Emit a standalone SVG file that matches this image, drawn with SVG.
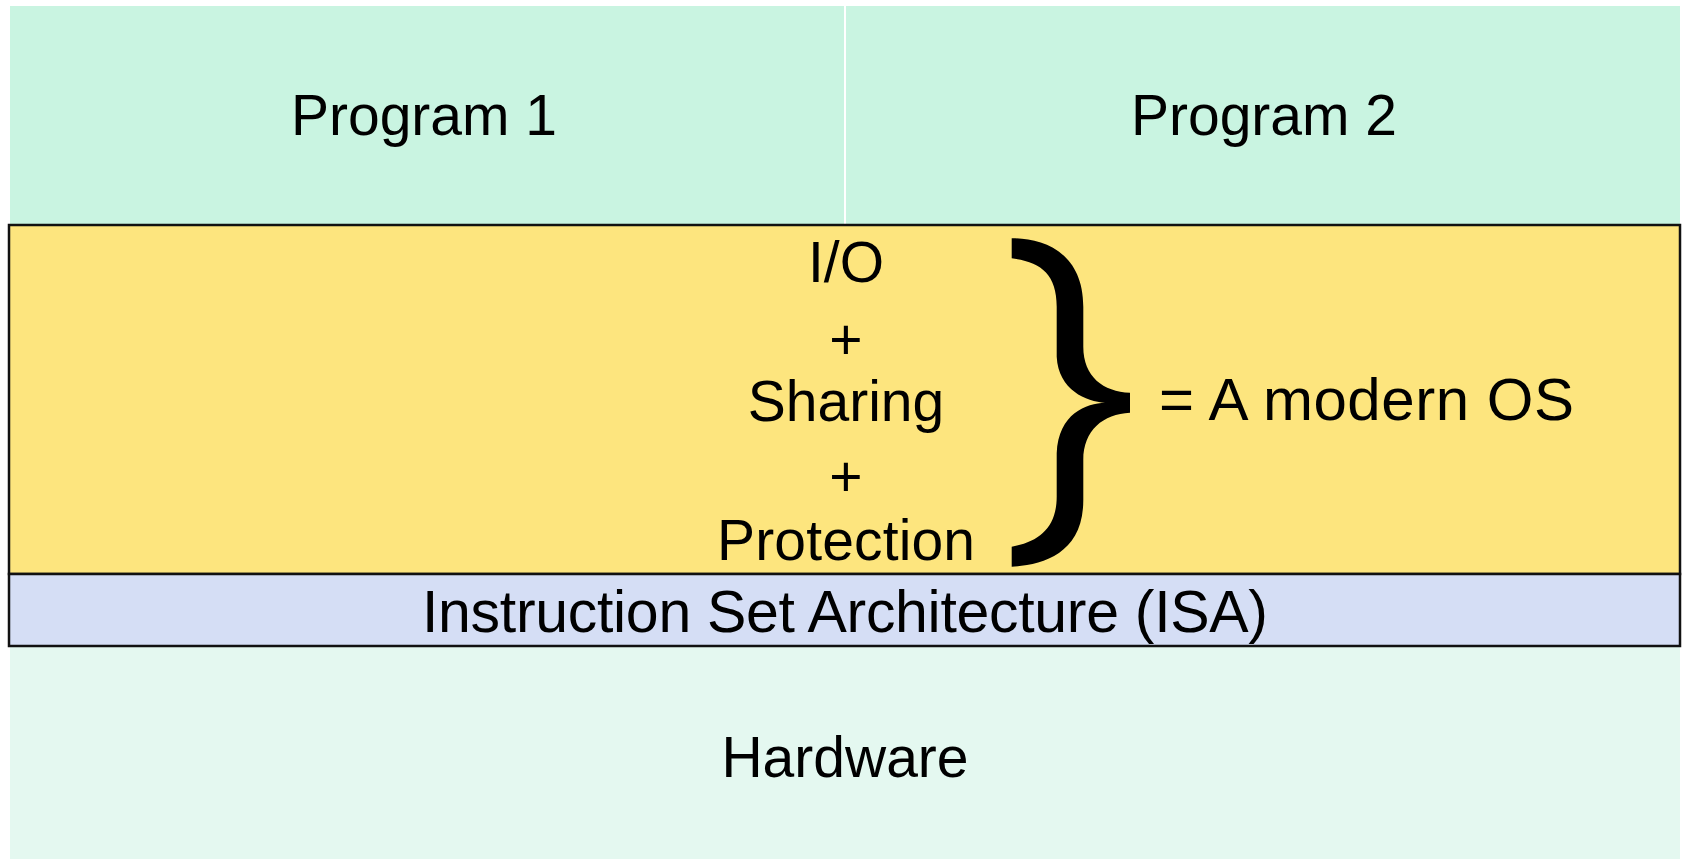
<svg xmlns="http://www.w3.org/2000/svg" width="1683" height="860" viewBox="0 0 1683 860">
<style>
text{font-family:"Liberation Sans",Arial,Helvetica,sans-serif;fill:#000;font-size:57px}
.c{text-anchor:middle}
.box{stroke:#111;stroke-width:2.5}
</style>
<rect x="0" y="0" width="1683" height="860" fill="#ffffff"/>
<g id="program1">
<rect x="10" y="6" width="834" height="219" fill="#C9F4E1"/>
<text class="c" x="424" y="135">Program 1</text>
</g>
<g id="program2">
<rect x="846" y="6" width="834" height="219" fill="#C9F4E1"/>
<text class="c" x="1264" y="135">Program 2</text>
</g>
<g id="hardware">
<rect x="10" y="646" width="1670" height="213" fill="#E4F8F0"/>
<text class="c" x="845" y="777">Hardware</text>
</g>
<g id="os">
<rect class="box" x="9" y="225" width="1671" height="349" fill="#FDE57E"/>
<text class="c" x="846" y="282">I/O</text>
<text class="c" x="846" y="359">+</text>
<text class="c" x="846" y="421">Sharing</text>
<text class="c" x="846" y="496">+</text>
<text class="c" x="846" y="560" textLength="258" lengthAdjust="spacing">Protection</text>
<path d="M1011.7,238.3 C1040,238 1083.3,250 1083.3,306.7 L1083.3,346.7 C1083.3,376.7 1103.3,391.7 1130,392.7 L1130,412.7 C1103.3,414 1083.3,430 1083.3,460 L1083.3,500 C1083.3,553.3 1043.3,565 1011.7,566.7 L1011.7,546.7 C1040,541.7 1056.7,526.7 1056.7,496.7 L1056.7,453.3 C1058.3,413.3 1086.7,403.3 1105,402.7 C1086.7,401.7 1058.3,390 1056.7,356.7 L1056.7,306.7 C1056.7,273.3 1040,261.7 1011.7,258.3 Z" fill="#000"/>
<text x="1159" y="420" style="font-size:60px" textLength="415" lengthAdjust="spacing">= A modern OS</text>
</g>
<g id="isa">
<rect class="box" x="9" y="574" width="1671" height="72" fill="#D5DEF5"/>
<text class="c" x="845" y="632" style="font-size:59px" textLength="846" lengthAdjust="spacing">Instruction Set Architecture (ISA)</text>
</g>
<g id="connectors"></g>
</svg>
